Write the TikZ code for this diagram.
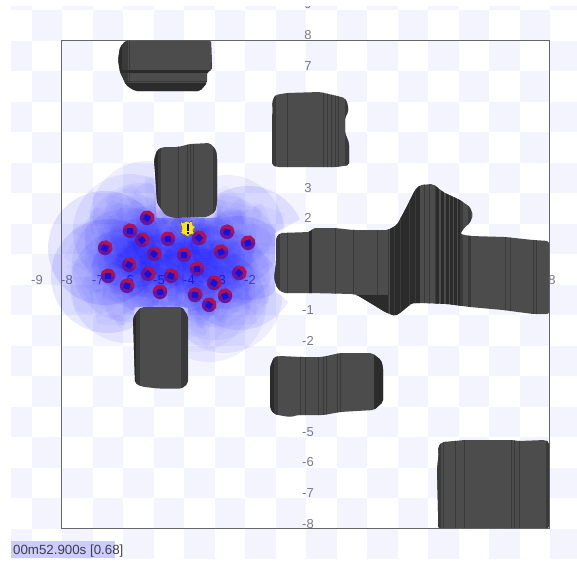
\documentclass[tikz,border=0pt]{standalone}
\usepackage{fontspec}
\setmainfont{Liberation Sans}
\definecolor{tile}{HTML}{F4F4FF}
\definecolor{obsmain}{HTML}{4C4C4C}
\definecolor{obsdark}{HTML}{2B2B2B}
\definecolor{obsmid}{HTML}{3A3A3A}
\definecolor{framec}{HTML}{666666}
\definecolor{labelc}{HTML}{7A7A86}
\definecolor{scan}{HTML}{0000FF}
\definecolor{robotred}{HTML}{B4104A}
\definecolor{robotpurple}{HTML}{6E1496}
\definecolor{robotblue}{HTML}{1010E0}
\tikzset{
  axislabel/.style={font=\fontsize{13}{13}\selectfont,text=labelc,inner sep=0pt,anchor=center},
  scanfill/.style={fill=scan,fill opacity=\scanop,draw=none},
  scanfan/.style={fill=scan,fill opacity=0.032,draw=none},
  vline/.style={draw=obsmid,line width=0.9pt},
  vdark/.style={fill=obsdark,draw=none},
  vmid/.style={fill=obsmid,draw=none}
}
\newcommand\vl[1]{\draw[vline] (#1,0) -- (#1,562);}
\newcommand\vd[2]{\fill[vdark] (#1,0) rectangle (#2,562);}
\newcommand\vm[2]{\fill[vmid] (#1,0) rectangle (#2,562);}
\newcommand\boxhit[4]{%
  \edef\tn{\fpeval{max(min((#1-\rx)/\dx,(#3-\rx)/\dx),min((#2-\ry)/\dy,(#4-\ry)/\dy))}}%
  \edef\tf{\fpeval{min(max((#1-\rx)/\dx,(#3-\rx)/\dx),max((#2-\ry)/\dy,(#4-\ry)/\dy))}}%
  \edef\rr{\fpeval{(\tn<\tf && \tn>0 && \tn<\rr) ? \tn : \rr}}%
}
\newcommand\scanpoly[3]{% x y range
  \def\rx{#1}\def\ry{#2}%
  \edef\scanop{\fpeval{round(0.02+0.09*(((\rx-178)^2+(\ry-262)^2)/6400),3)}}%
  \gdef\pth{}%
  \foreach \k in {0,...,71}{%
    \edef\ang{\fpeval{\k*5+0.37}}%
    \edef\dx{\fpeval{cosd(\ang)}}%
    \edef\dy{\fpeval{sind(\ang)}}%
    \edef\rr{#3}%
    \boxhit{156}{146}{217}{218}%
    \boxhit{134}{307}{188}{389}%
    \boxhit{275}{232}{549}{293}%
    \boxhit{270}{355}{383}{416}%
    \xdef\pth{\pth\ifnum\k>0 --\fi(\fpeval{round(\rx+\rr*\dx,2)},\fpeval{round(\ry+\rr*\dy,2)})}%
  }%
  \edef\tmpdo{\noexpand\fill[scanfill] \pth -- cycle;}\tmpdo
}
\newcommand\pathA{(126,40.5) -- (211,40.5) -- (212,70) -- (207,72) -- (207,83) -- (200,91) -- (135,91) -- (126,85) -- (120,72) -- (118,60) -- (120,47) -- cycle}
\newcommand\pathB{(272,103) -- (275,95) -- (287,93) -- (320,92) -- (337,96) -- (345,98) -- (348,105) -- (348,113) -- (345,117) -- (345,133) -- (349,143) -- (349,165) -- (337,167) -- (277,167) -- (272,165) -- (272,117) -- (273,110) -- cycle}
\newcommand\pathC{(154,160) -- (157,150) -- (163,147) -- (178,147) -- (190,144) -- (210,143) -- (216,150) -- (217,157) -- (217,203) -- (215,212) -- (207,217) -- (173,218) -- (165,215) -- (157,203) -- (155,172) -- cycle}
\newcommand\pathD{(133,318) -- (138,310) -- (142,307) -- (182,307) -- (188,316) -- (188,383) -- (182,388.5) -- (158,388.5) -- (142,386.7) -- (135,383) -- cycle}
\newcommand\pathE{(270,367) -- (274,357) -- (280,356) -- (302,357) -- (322,357) -- (340,353) -- (372,353) -- (381,360) -- (383,367) -- (383,402) -- (374,410) -- (340,412) -- (324,415) -- (298,415) -- (291,417) -- (283,416) -- (274,414) -- (270,408) -- cycle}
\newcommand\pathF{(438,447) -- (442,442) -- (454.5,441) -- (464.5,440) -- (511.6,440) -- (519,441) -- (545,440) -- (549,442) -- (549,528) -- (438,528) -- (438,510) -- (437,470) -- (438.7,453) -- cycle}
\newcommand\pathG{(276,238) -- (280,233) -- (310,232) -- (313,228) -- (335,228) -- (353,230) -- (388,230) -- (397,225) -- (405,210) -- (415,190) -- (420,185) -- (433,184) -- (443,192) -- (460,200) -- (470,207) -- (473,215) -- (470,223) -- (465,227) -- (460,234) -- (470,236) -- (505,237) -- (533,240) -- (549,241) -- (549,314) -- (533,314) -- (503,310) -- (470,307) -- (447,304) -- (420,303) -- (412,303) -- (400,313) -- (395,316) -- (385,312) -- (377,307) -- (357,295) -- (353,294) -- (310,293) -- (283,293) -- (277,288) -- (274,278) -- (276,263) -- cycle}
\newcommand\obstacle[2]{%
  \begin{scope}
    \clip[rounded corners=2pt] #1;
    \fill[obsmain] (0,0) rectangle (577,562);
    #2
  \end{scope}
}
\begin{document}
\begin{tikzpicture}[x=1pt,y=-1pt]
\useasboundingbox (0,0) rectangle (577,562);
\fill[white] (0,0) rectangle (577,562);
% checker
\begin{scope}
  \clip (11,6) rectangle (577,558);
  \foreach \cc in {-1,...,18}{
    \foreach \rw in {-1,...,18}{
      \pgfmathtruncatemacro\parity{mod(\cc+\rw+40,2)}
      \ifnum\parity=0
        \fill[tile] ({31.7+30.5*\cc},{10+30.5*\rw}) rectangle ({31.7+30.5*(\cc+1)},{10+30.5*(\rw+1)});
      \fi
    }
  }
\end{scope}
% axis labels
\foreach \lab/\px in {-9/37,-8/67,-7/98,-6/128,-5/159,-4/189,-3/220,-2/250}
  \node[axislabel] (xl\px) at (\px,280) {\lab};
\node[axislabel] (xl8) at (552,280) {8};
\begin{scope}
  \clip (0,6) rectangle (577,562);
  \node[axislabel] (yl9) at (308,4.5) {9};
\end{scope}
\foreach \lab/\py in {8/35,7/66,3/188,2/218,-1/310,-2/341,-5/432,-6/462,-7/493,-8/524}
  \node[axislabel] (yl\py) at (308,\py) {\lab};
% scans
\foreach \x/\y/\i in {147/218/1,130/231/2,142/240/3,105/248/4,168/239/5,199/238/6,227/232/7,248/243/8,154/254/9,184/255/10,221/252/11,129/265/12,108/276/13,148/274/14,171/276/15,197/269/16,239/273/17,127/286/18,160/292/19,214/283/20,195/295/21,225/296/22,209/305/23,187/229/24}{
  \scanpoly{\x}{\y}{57}
}
\foreach \x/\y/\i in {147/218/1,130/231/2,142/240/3,105/248/4,168/239/5,199/238/6,227/232/7,248/243/8,154/254/9,184/255/10,221/252/11,129/265/12,108/276/13,148/274/14,171/276/15,197/269/16,239/273/17,127/286/18,160/292/19,214/283/20,195/295/21,225/296/22,209/305/23,187/229/24}{
  \pgfmathsetmacro\th{mod(\i*37,90)}
  \begin{scope}[shift={(\x,\y)},rotate=\th]
    \fill[scanfan] (-30,-30) rectangle (30,30);
    \fill[scanfan] (-4,-38) -- (24,-26) -- (24,14) -- (-4,20) -- cycle;
  \end{scope}
  \begin{scope}[shift={(\x,\y)},rotate=\th+33]
    \fill[scanfan] (-20,-20) rectangle (20,20);
    \fill[scanfan] (0,0) -- (38,-16) -- (44,16) -- (14,32) -- cycle;
    \fill[scanfan] (0,0) -- (-38,12) -- (-46,-14) -- (-18,-34) -- cycle;
  \end{scope}
}
% frame
\draw[framec,line width=1pt] (61.5,40.5) rectangle (549,528);
% obstacles
\obstacle{\pathA}{\vd{116}{122}\vm{122}{128}\vl{129}\vl{211}
  \fill[obsdark] (110,70) rectangle (215,72.5);
  \fill[obsmid] (110,80.5) rectangle (215,82);
  \fill[obsdark] (110,82.5) rectangle (215,92);}
\obstacle{\pathB}{\vm{271}{276}\vl{287}\vl{323}\vl{327}\vl{331}\vl{335}\vl{338}\vm{345}{350}}
\obstacle{\pathC}{\vd{153}{158}\vm{158}{161}\vl{178}\vl{187}\vl{190}\vl{193}\vm{213}{218}}
\obstacle{\pathD}{\vd{132}{136}\vm{136}{140}\vl{181}\vm{182}{189}}
\obstacle{\pathE}{\vd{269}{274}\vm{274}{278}\vl{300}\vl{305}\vl{318}\vl{323}\vl{326}\vl{337}\vl{340}\vd{374}{384}}
\obstacle{\pathF}{\vm{436}{441}\vl{443.5}\vl{455.6}\vl{464.5}\vl{511.6}\vl{514.5}\vl{519}\vm{545.5}{550}}
\obstacle{\pathG}{\vm{274}{280}\vl{287}\vd{309}{312}\vl{335}\vl{353}\vl{377}\vl{388}
  \fill[obsdark] (356,295) rectangle (388,320);
  \vd{390}{420}
  \foreach \s in {394,400,409,415}{\vl{\s}}
  \vl{424}\vl{429}\vl{435}
  \foreach \s in {436,441,446,450,454,458}{\vd{\s}{\s+2.6}}
  \vm{460}{463}\vm{468}{470.5}\vl{505}\vl{510}\vl{533}\vl{536}}
% robots
\foreach \x/\y/\i in {147/218/1,130/231/2,142/240/3,105/248/4,168/239/5,199/238/6,227/232/7,248/243/8,154/254/9,184/255/10,221/252/11,129/265/12,108/276/13,148/274/14,171/276/15,197/269/16,239/273/17,127/286/18,160/292/19,214/283/20,195/295/21,225/296/22,209/305/23}{
  \pgfmathsetmacro\th{200+mod(\i*29,80)}
  \begin{scope}[shift={(\x,\y)},rotate=\th]
    \fill[rounded corners=1.5pt,fill=robotpurple] (22.5:7.6) -- (67.5:7.6) -- (112.5:7.6) -- (157.5:7.6) -- (202.5:7.6) -- (247.5:7.6) -- (292.5:7.6) -- (337.5:7.6) -- cycle;
    \fill[robotred] (-7.2,-3) -- (-3,-7) -- (-0.5,-7) -- (-3,0) -- (-0.5,7) -- (-3,7) -- (-7.2,3) -- cycle;
  \end{scope}
  \begin{scope}[shift={(\x,\y)},rotate=\th+12]
    \fill[robotblue] (45:4.2) -- (135:4.2) -- (225:4.2) -- (315:4.2) -- cycle;
  \end{scope}
}
% yellow robot
\fill[yellow!90!orange,draw=black!75,line width=0.7pt,densely dotted]
  (180.5,222) -- (184,223) -- (186,220.8) -- (189,222.5) -- (192,221) -- (192.5,225) -- (195,227) -- (193,230) -- (194,234) -- (190,234.5) -- (188,236.5) -- (184,234.5) -- (181,233) -- (182,228) -- cycle;
\fill[black] (187,224) rectangle (189.4,231);
\fill[black] (187.2,232) rectangle (189.2,234);
% timer
\fill[blue!20!white] (11,541) rectangle (115,557.5);
\node[font=\fontsize{13.3}{13}\selectfont,text=black!75,inner sep=0pt,anchor=base west] (timer) at (13,554) {00m52.900s [0.68]};
\end{tikzpicture}
\end{document}
